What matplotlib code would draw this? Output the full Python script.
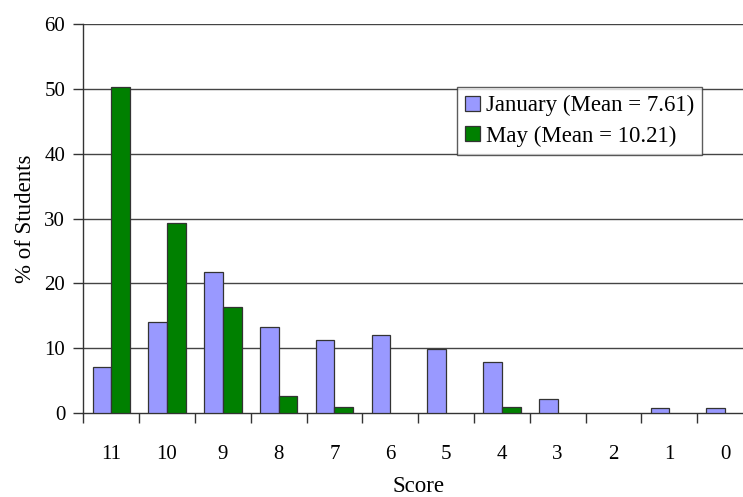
import matplotlib
matplotlib.use("Agg")
import matplotlib.pyplot as plt
import numpy as np

scores = ["11", "10", "9", "8", "7", "6", "5", "4", "3", "2", "1", "0"]
january = [7.1, 14.0, 21.7, 13.3, 11.3, 12.0, 9.8, 7.8, 2.1, 0.0, 0.7, 0.7]
may = [50.3, 29.3, 16.3, 2.6, 0.9, 0.0, 0.0, 0.9, 0.0, 0.0, 0.0, 0.0]
series_labels = ["January (Mean = 7.61)", "May (Mean = 10.21)"]
y_ticks = [0, 10, 20, 30, 40, 50, 60]

plt.rcParams["font.family"] = ["Liberation Serif", "DejaVu Serif"]
FS_TICK = 15
FS_TEXT = 16.5

W, H = 743, 497
fig = plt.figure(figsize=(W / 100, H / 100), dpi=100)
# plot area in pixel units: left, top, right, bottom
left, top, right, bottom = 83.3, 24.0, 753.0, 413.0
ax = fig.add_axes([left / W, 1 - bottom / H, (right - left) / W, (bottom - top) / H])

x = np.arange(len(scores))
w = 0.335


def draw_series(values, offset, color, label):
    vals = np.asarray(values, dtype=float)
    keep = vals > 0  # empty categories get no bar at all
    ax.bar(x[keep] + offset, vals[keep], width=w, color=color, edgecolor="#333333",
           linewidth=0.9, label=label, zorder=3)


draw_series(january, -w / 2, "#9999FF", series_labels[0])
draw_series(may, w / 2, "#008000", series_labels[1])

ax.set_xlim(-0.5, len(scores) - 0.5)
ax.set_ylim(0, 60)
ax.set_yticks(y_ticks)
ax.set_xticks(x)
ax.set_xticklabels(scores, fontsize=FS_TICK)
ax.set_yticklabels([str(t) for t in y_ticks], fontsize=FS_TICK)
ax.set_xticks(np.arange(len(scores) + 1) - 0.5, minor=True)
ax.tick_params(axis="x", which="major", length=0, pad=23)
ax.tick_params(axis="x", which="minor", length=7, width=1, color="#333333", direction="out")
ax.tick_params(axis="y", length=7, width=1, color="#333333", direction="out", pad=6)

for v in y_ticks[1:]:
    ax.axhline(v, color="#444444", linewidth=1.0, zorder=1)

for side in ("top", "right"):
    ax.spines[side].set_visible(False)
for side in ("left", "bottom"):
    ax.spines[side].set_color("#333333")
    ax.spines[side].set_linewidth(1.0)

ax.set_ylabel("% of Students", fontsize=FS_TEXT, labelpad=6)
fig.text(418 / W, 1 - 486 / H, "Score", ha="center", va="center", fontsize=FS_TEXT)

leg = fig.legend(loc="upper left", bbox_to_anchor=(457 / W, 1 - 87 / H),
                 bbox_transform=fig.transFigure, borderaxespad=0,
                 frameon=True, fancybox=False, shadow=False,
                 handlelength=0.65, handleheight=0.65, handletextpad=0.25,
                 labelspacing=0.4, borderpad=0.35, fontsize=FS_TEXT)
leg.get_frame().set_edgecolor("#333333")
leg.get_frame().set_linewidth(1.0)

fig.savefig("out.png", dpi=100)
